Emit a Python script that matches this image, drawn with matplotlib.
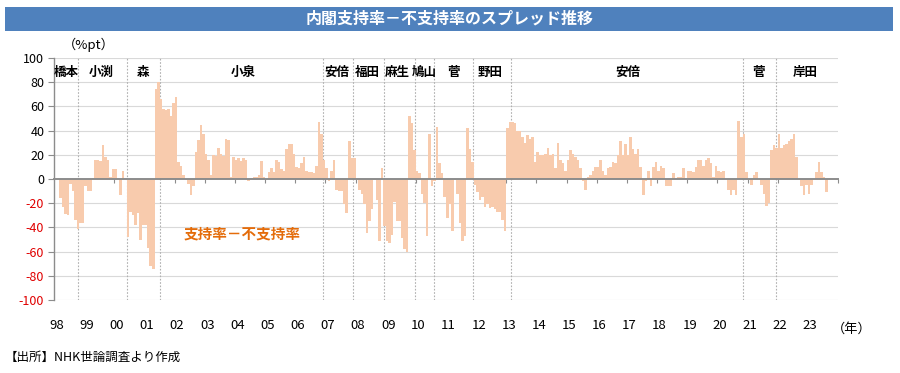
import numpy as np
import pandas as pd
import matplotlib
matplotlib.use('Agg')
import matplotlib.pyplot as plt
import matplotlib.transforms as mtrans
from matplotlib.patches import Rectangle

plt.rcParams['font.family'] = ['Noto Sans CJK JP', 'DejaVu Sans']

#%% Data: monthly spread (approval - disapproval, %pt), NHK poll, from 1998-03
start = '1998-03'
spread = [
    -16, -23, -29, -30, -4, -10, -34, -41, -36, -36,            # 1998 (Mar-Dec)
    -6, -10, -10, 1, 16, 16, 15, 28, 18, 16, 2, 8,               # 1999
    8, 1, -13, 7, 1, -48, -27, -30, -38, -28, -50, -38,          # 2000
    -38, -57, -72, -74, 74, 80, 66, 58, 57, 58, 52, 63,          # 2001
    68, 14, 11, 3, -1, -4, -13, -6, 22, 32, 45, 37,              # 2002
    21, 16, 3, 20, 19, 26, 21, 19, 33, 32, 2, 18,                # 2003
    16, 17, 15, 17, 16, -2, 1, 2, 2, 3, 15, 2,                   # 2004
    0, 6, 9, 6, 16, 14, 8, 7, 25, 29, 29, 21,                    # 2005
    10, 9, 13, 18, 7, 6, 6, 5, 11, 47, 37, 16,                   # 2006
    9, -2, 7, 16, -9, -10, -10, -21, -28, 31, 17, 17,            # 2007
    -1, -9, -12, -21, -45, -35, -25, -1, -17, -51, 9, -39,       # 2008
    -51, -53, -46, -19, -35, -35, -49, -58, -60, 52, 46, 24,     # 2009
    7, 5, -12, -20, -47, 37, -6, -2, 43, 13, 5, -15,             # 2010
    -32, -21, -43, -1, -12, -36, -51, -47, 42, 25, 14, -5,       # 2011
    -11, -17, -15, -23, -21, -24, -23, -25, -27, -27, -34, -43,  # 2012
    42, 47, 47, 46, 40, 40, 35, 30, 36, 33, 35, 14,              # 2013
    22, 20, 20, 21, 26, 20, 21, 9, 30, 16, 13, 7,                # 2014
    16, 24, 21, 18, 16, 9, -2, -9, 2, 3, 7, 10,                  # 2015
    10, 16, 7, 3, 9, 10, 14, 13, 20, 31, 20, 29,                 # 2016
    20, 35, 25, 21, 25, 10, -13, -2, 7, -6, 10, 14,              # 2017
    7, 11, 9, -6, -6, -6, 5, 1, 2, 2, 9, 1,                      # 2018
    7, 7, 6, 10, 16, 16, 11, 16, 17, 13, 2, 11,                  # 2019
    7, 6, 7, 0, -9, -13, -9, -13, 48, 35, 37, 6,                 # 2020
    -1, -5, 3, 6, 0, -5, -12, -22, -20, 24, 28, 26,              # 2021
    37, 26, 28, 29, 31, 33, 37, 18, 0, -6, -13, -5,              # 2022
    -12, -5, 0, 6, 14, 6, 2, -11,                                # 2023 (Jan-Aug)
]

years = list(range(1998, 2024))
year_labels = ['%02d' % (y % 100) for y in years]

# cabinet names and divider positions (months since 1998-01, as drawn)
pm_names = ['橋本', '小渕', '森', '小泉', '安倍', '福田', '麻生', '鳩山', '菅', '野田', '安倍', '菅', '岸田']
pm_label_x = [4.8, 18.8, 35.5, 75.2, 112.6, 124.6, 136.5, 147.2, 158.8, 173.5, 228.4, 280.5, 298.8]
pm_divider = [9.6, 29.0, 42.0, 107.0, 119.0, 131.3, 143.7, 151.2, 166.7, 181.9, 274.2, 287.3]

bar_color = '#F8CBAD'
grid_color = '#D9D9D9'
axis_color = '#8C8C8C'

#%% Plot
months = pd.period_range(start=start, periods=len(spread), freq='M')
xpos = (months.year - 1998) * 12 + (months.month - 1)

fig = plt.figure(figsize=(9, 3.73), dpi=100)
ax = fig.add_axes([54/900, 1-300/373, 784/900, 242/373])

# title bar
fig.patches.append(Rectangle((5/900, 1-31/373), 888/900, 24/373, transform=fig.transFigure,
                             facecolor='#4F81BD', edgecolor='none', zorder=0))
fig.text(0.5, 1-19/373, '内閣支持率－不支持率のスプレッド推移', color='white', fontsize=11.5,
         fontweight='bold', ha='center', va='center')

ax.bar(xpos, spread, width=1.0, align='edge', color=bar_color, edgecolor='none', zorder=2)

ax.set_xlim(0, 312)
ax.set_ylim(-100, 100)

# horizontal grid
for yv in range(-100, 101, 20):
    if yv != 0:
        ax.axhline(yv, color=grid_color, lw=0.8, zorder=0)

# cabinet dividers
for xd in pm_divider:
    ax.axvline(xd, color='#B0B0B0', lw=0.8, ls=(0, (1.5, 1.5)), zorder=1)
for name, xl in zip(pm_names, pm_label_x):
    ax.text(xl, 88, name, ha='center', va='center', fontsize=9, fontweight='bold', zorder=3)

# spines
for s in ['top', 'right']:
    ax.spines[s].set_visible(False)
ax.spines['left'].set_color(axis_color)
ax.spines['left'].set_linewidth(1.0)
ax.spines['bottom'].set_position(('data', 0))
ax.spines['bottom'].set_color(axis_color)
ax.spines['bottom'].set_linewidth(1.4)
ax.spines['bottom'].set_zorder(3)

ax.set_yticks(range(-100, 101, 20))
ax.set_yticklabels([str(v) for v in range(-100, 101, 20)], fontsize=9)
for lbl, v in zip(ax.get_yticklabels(), range(-100, 101, 20)):
    lbl.set_color('#E00000' if v < 0 else 'black')
ax.tick_params(axis='y', length=4, color=axis_color, pad=3)

ax.set_xticks([12 * k for k in range(1, 27)])
ax.set_xticklabels([])
ax.tick_params(axis='x', length=3, color=axis_color, direction='out')

# year labels under the plot
trans = mtrans.blended_transform_factory(ax.transData, ax.transAxes)
for k, lab in enumerate(year_labels):
    ax.text(12 * k + 1.0, -0.105, lab, transform=trans, ha='center', va='center', fontsize=9.5)
ax.text(1.018, -0.12, '（年）', transform=ax.transAxes, ha='center', va='center', fontsize=9.5)
ax.text(0.045, 1.055, '（%pt）', transform=ax.transAxes, ha='center', va='center', fontsize=9.5)

ax.text(75, -45, '支持率－不支持率', color='#E46C0A', fontsize=10.5, fontweight='bold',
        ha='center', va='center', zorder=3)

fig.text(5/900, 1-357/373, '【出所】NHK世論調査より作成', fontsize=9, ha='left', va='center')

fig.savefig('out.png', dpi=100)
plt.close()
